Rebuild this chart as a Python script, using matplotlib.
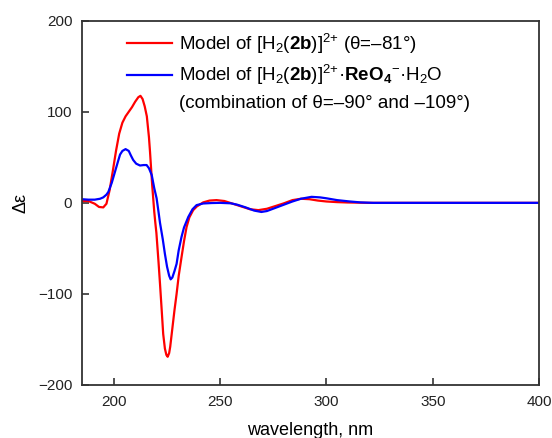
import matplotlib
matplotlib.use("Agg")
import matplotlib.pyplot as plt
from matplotlib.lines import Line2D

plt.rcParams['font.family'] = ['Liberation Sans', 'DejaVu Sans']
plt.rcParams['mathtext.fontset'] = 'custom'
plt.rcParams['mathtext.rm'] = 'Liberation Sans'
plt.rcParams['mathtext.it'] = 'Liberation Sans:italic'
plt.rcParams['mathtext.bf'] = 'Liberation Sans:bold'
plt.rcParams['mathtext.sf'] = 'Liberation Sans'

# Red curve: model of [H2(2b)]2+ (theta = -81 deg)
red_wl = [185, 188, 191, 193, 195, 196.5, 198, 199.5, 201, 202.5, 204, 205.5,
          207, 208.5, 210, 211.5, 212.5, 213.5, 214.5, 215.5, 216.5, 217, 217.5,
          218, 218.5, 219, 219.5, 220, 221, 221.7, 222.5, 223.2, 224, 224.7,
          225.3, 226, 226.5, 227.2, 228.5, 229.5, 230.5, 231.8, 233, 234.2,
          235.5, 237.3, 239, 242, 245, 248.3, 252, 256, 260, 264, 268, 272,
          276, 280, 284, 288, 292, 296, 300, 305, 310, 315, 320, 330, 400]
red_de = [2, 2, -1, -4.5, -5, -1, 14, 35, 57, 76, 88, 95,
          100, 105, 111, 116, 117.5, 114, 106, 95, 72, 56, 38,
          20, 5, -10, -22, -33, -65, -89, -118, -144, -160, -167,
          -169, -165, -158, -144, -118, -100, -80, -60, -42, -26.5,
          -16, -8, -4, 0.5, 2.5, 3, 2, -1, -4, -7, -8, -6.5,
          -3.5, -0.5, 3, 4.5, 4, 2.5, 1.5, 0.8, 0.4, 0.2, 0, 0, 0]

# Blue curve: model of [H2(2b)]2+.ReO4-.H2O
blue_wl = [185, 188, 191, 193.5, 195, 196.5, 197.4, 199, 200.5, 202, 202.9,
           204, 205.5, 207, 208, 209.1, 210.5, 212.3, 214, 215.4, 216.5,
           217.8, 219, 220.1, 221, 221.7, 223, 224, 225, 226, 226.7, 227.5,
           228.5, 229.5, 230.5, 231.8, 233, 235, 237, 238.9, 242, 246, 250,
           255, 258, 262, 266, 269.4, 272, 276, 280, 284, 288, 293, 297,
           300, 305, 311, 316, 322, 400]
blue_de = [4, 3.5, 3.5, 4.5, 6, 9, 12, 22, 34, 46, 53,
           57, 59, 57, 52, 47, 43, 41, 41.5, 41.5, 38,
           30.6, 16, 5, -10, -22, -40, -56, -70, -80, -84, -82,
           -75, -67, -52, -37.6, -27, -15.5, -7, -2.5, -0.7, -0.2, 0,
           -0.5, -2, -5, -8.5, -10, -9, -5.5, -2, 1.5, 4.5, 6.6, 6,
           5, 3, 1.5, 0.5, 0, 0]

red_label = r'Model of [H$_2$($\mathbf{2b}$)]$^{2{+}}$ (θ=–81°)'
blue_label = r'Model of [H$_2$($\mathbf{2b}$)]$^{2{+}}$·$\mathbf{ReO_4}^{{-}}$·H$_2$O'
blue_label2 = '(combination of θ=–90° and –109°)'

x_ticks = [200, 250, 300, 350, 400]
y_ticks = [-200, -100, 0, 100, 200]

fig = plt.figure(figsize=(5.52, 4.38), dpi=100)
ax = fig.add_axes([82/552, 1-385/438, (539-82)/552, (385-20.7)/438])

ax.plot(red_wl, red_de, color='#ff0000', lw=1.6)
ax.plot(blue_wl, blue_de, color='#0000ff', lw=1.6)

ax.set_xlim(185, 400)
ax.set_ylim(-200, 200)
ax.set_xticks(x_ticks)
ax.set_yticks(y_ticks)
ax.set_yticklabels(['−200', '−100', '0', '100', '200'])
ax.tick_params(direction='in', length=5, width=1.1, labelsize=11, pad=7,
               colors='#222222', top=False, right=False)
for s in ax.spines.values():
    s.set_linewidth(1.3)
    s.set_color('#333333')

ax.set_xlabel('wavelength, nm', fontsize=13, labelpad=9.5)
ax.set_ylabel('Δε', fontsize=13, labelpad=6)

handles = [Line2D([], [], color='#ff0000', lw=1.6),
           Line2D([], [], color='#0000ff', lw=1.6),
           Line2D([], [], color='none')]
leg = ax.legend(handles, [red_label, blue_label, blue_label2],
                loc='upper left', bbox_to_anchor=(0.098, 0.97),
                frameon=False, fontsize=13.5, handlelength=2.4,
                handletextpad=0.4, labelspacing=0.4, borderpad=0,
                borderaxespad=0)

fig.savefig('out.png', dpi=100)
